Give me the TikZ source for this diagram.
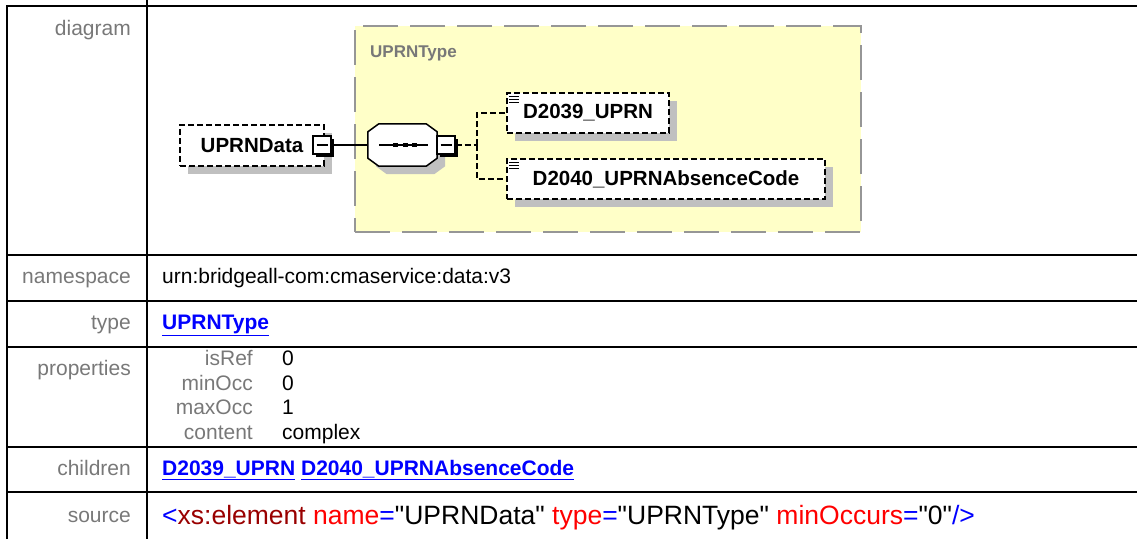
\documentclass[tikz,border=0pt]{standalone}
\usepackage{fontspec}
\setmainfont{Liberation Sans}
\newfontfamily\codefont{Liberation Sans}[Ligatures=ResetAll]
\usetikzlibrary{positioning, shadows}
\definecolor{labelGray}{RGB}{120,120,120}
\definecolor{typeFill}{RGB}{255,255,200}
\definecolor{typeEdge}{RGB}{150,150,150}
\definecolor{shadowGray}{RGB}{192,192,192}
\definecolor{linkBlue}{RGB}{0,0,255}
\definecolor{codeRed}{RGB}{255,0,0}
\definecolor{codeMaroon}{RGB}{153,0,0}
\definecolor{codeBlue}{RGB}{0,0,255}
\newcommand{\pxsize}[1]{\fontsize{#1}{#1}\selectfont}
\tikzset{
    rowline/.style={line width=2pt, draw=black},
    lbl/.style={anchor=east, inner sep=0pt, text=labelGray, font=\pxsize{21},
        text height=15pt, text depth=4pt},
    val/.style={anchor=west, inner sep=0pt, text=black, font=\pxsize{21},
        text height=15pt, text depth=4pt},
    link/.style={val, text=linkBlue, font=\pxsize{21}\bfseries},
    code/.style={val, font=\codefont\pxsize{26.5}, text height=19pt, text depth=5pt},
    typebox/.style={draw=typeEdge, fill=typeFill, line width=1.5pt,
        dash pattern=on 35pt off 12pt, inner sep=0pt},
    typelbl/.style={anchor=west, inner sep=0pt, text=labelGray, font=\pxsize{17}\bfseries},
    boxshadow/.style={drop shadow={shadow xshift=8pt, shadow yshift=-8pt, opacity=1, fill=shadowGray}},
    elembox/.style={draw=black, fill=white, line width=1.5pt, dash pattern=on 6pt off 3pt,
        inner sep=0pt, font=\pxsize{20.5}\bfseries, boxshadow},
    seqanchor/.style={minimum width=69pt, minimum height=42pt, inner sep=0pt},
    seqline/.style={draw=black, fill=white, line width=1.5pt, boxshadow},
    minusbox/.style={draw=black, fill=white, line width=1.3pt, minimum size=18pt, inner sep=0pt,
        drop shadow={shadow xshift=2.5pt, shadow yshift=-2.5pt, opacity=1, fill=black},
        path picture={\draw[line width=1.3pt] ([xshift=3.5pt]path picture bounding box.west)
            -- ([xshift=-3.5pt]path picture bounding box.east);}},
    conn/.style={line width=1.5pt, draw=black},
    dconn/.style={conn, dash pattern=on 6pt off 3pt}
}
\begin{document}
\begin{tikzpicture}[x=1pt, y=-1pt]
    \useasboundingbox (0,0) rectangle (1137,539);
    % table frame
    \draw[rowline] (7,539) -- (7,6) -- (1137,6);
    \draw[rowline] (147,0) -- (147,539);
    \foreach \yy in {255,301,347,447,492} \draw[rowline] (7,\yy) -- (1137,\yy);
    % diagram
    \node[typebox, minimum width=506pt, minimum height=206pt] (utype) at (608,129) {};
    \node[typelbl] (utlbl) at (370,53) {UPRNType};
    \node[elembox, minimum width=144pt, minimum height=41pt] (udata) at (252,145.5) {UPRNData};
    \node[seqanchor] (seq) at (402.5,145) {};
    \draw[seqline] ([xshift=11pt]seq.north west) -- ([xshift=-11pt]seq.north east)
        -- ([yshift=-8pt]seq.north east) -- ([yshift=8pt]seq.south east)
        -- ([xshift=-11pt]seq.south east) -- ([xshift=11pt]seq.south west)
        -- ([yshift=8pt]seq.south west) -- ([yshift=-8pt]seq.north west) -- cycle;
    \node[minusbox] (mdata) at (322,145) {};
    \node[minusbox] (mseq) at (446,145) {};
    \coordinate (fork) at (477,145);
    \node[elembox, minimum width=162pt, minimum height=40pt] (uprn) at (588,113) {D2039\_UPRN};
    \node[elembox, minimum width=318pt, minimum height=40pt] (absc) at (666,179) {D2040\_UPRNAbsenceCode};
    \draw[conn] (mdata.east) -- (seq.west);
    \draw[conn] ([xshift=-23.5pt]seq.center) -- ([xshift=25.5pt]seq.center);
    \foreach \dx in {-7.5,2.5,12} \fill ([xshift=\dx pt]seq.center) ++(-2.5,-2) rectangle ++(5,4);
    \draw[dconn] (mseq.east) -- (fork);
    \draw[dconn] (fork) |- (uprn.west);
    \draw[dconn] (fork) |- (absc.west);
    \foreach \el in {uprn,absc}
        \foreach \dy in {4,7,10} \draw[line width=1pt] ([shift={(3,\dy)}]\el.north west) -- ++(10,0);
    % rows
    \node[lbl] (ldiag) at (131,30) {diagram};
    \node[lbl] (lns) at (131,278) {namespace};
    \node[lbl] (ltype) at (131,324) {type};
    \node[lbl] (lprop) at (131,370) {properties};
    \node[lbl] (lkids) at (131,470) {children};
    \node[lbl] (lsrc) at (131,517) {source};
    \node[val] (vns) at (162,278) {urn:bridgeall-com:cmaservice:data:v3};
    \node[link] (vtype) at (162,324) {\underline{UPRNType}};
    \foreach \k/\v/\yy in {isRef/0/360, minOcc/0/385, maxOcc/1/409, content/complex/434} {
        \node[lbl] (p\k) at (253,\yy) {\k};
        \node[val] (v\k) at (282,\yy) {\v};
    }
    \node[link] (vkids) at (162,470) {\underline{D2039\_UPRN} \underline{D2040\_UPRNAbsenceCode}};
    \node[code] (vsrc) at (162,517) {\textcolor{codeBlue}{<}\textcolor{codeMaroon}{xs:element}
        \textcolor{codeRed}{name}\textcolor{codeBlue}{=}"UPRNData"
        \textcolor{codeRed}{type}\textcolor{codeBlue}{=}"UPRNType"
        \textcolor{codeRed}{minOccurs}\textcolor{codeBlue}{=}"0"\textcolor{codeBlue}{/>}};
\end{tikzpicture}
\end{document}
